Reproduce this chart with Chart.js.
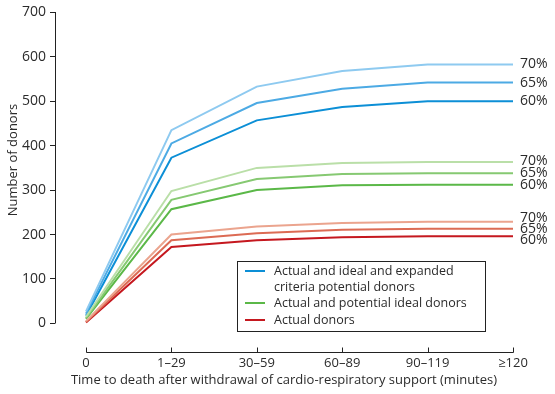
<!DOCTYPE html>
<html>
<head>
<meta charset="utf-8">
<script src="https://cdn.jsdelivr.net/npm/chart.js@4.4.0/dist/chart.umd.min.js"></script>
<style>
  html, body { margin: 0; padding: 0; background: #fff; }
  #wrap { width: 555px; height: 394px; }
</style>
</head>
<body>
<div id="wrap"><canvas id="donorChart" width="555" height="394"></canvas></div>
<script>
// categories on the x axis
const categories = ['0', '1\u201329', '30\u201359', '60\u201389', '90\u2013119', '\u2265120'];
const yTicks = [0, 100, 200, 300, 400, 500, 600, 700];

// Actual and ideal and expanded criteria potential donors
const blue70 = [27, 435, 533, 568, 583, 583];
const blue65 = [22, 405, 496, 528, 542, 542];
const blue60 = [17, 373, 457, 487, 500, 500];
// Actual and potential ideal donors
const green70 = [15, 298, 350, 361, 363, 363];
const green65 = [12, 278, 325, 336, 338, 338];
const green60 = [10, 257, 300, 311, 312, 312];
// Actual donors
const red70 = [5, 200, 218, 226, 229, 229];
const red65 = [3, 187, 203, 211, 213, 213];
const red60 = [2, 172, 187, 194, 196, 196];

const pctLabels = ['70%', '65%', '60%'];
const legendLabels = [
    ['Actual and ideal and expanded', 'criteria potential donors'],
    ['Actual and potential ideal donors'],
    ['Actual donors']
];

const FONT = "'Open Sans', sans-serif";
const TEXT = '#2b2b2b';

function series(values, color, pct, nudge) {
    return {
        data: values.map((v, i) => ({ x: i, y: v })),
        borderColor: color,
        borderWidth: 2,
        pointRadius: 0,
        tension: 0,
        fill: false,
        pct: pct,
        nudge: nudge || 0
    };
}

const datasets = [
    series(red70, '#eba48e', pctLabels[0], -4),
    series(red65, '#dc6b54', pctLabels[1], 0),
    series(red60, '#c5181f', pctLabels[2], 4),
    series(green70, '#badfa8', pctLabels[0], -1),
    series(green65, '#86c972', pctLabels[1], 0),
    series(green60, '#5bb848', pctLabels[2], 0),
    series(blue70, '#8ecaf0', pctLabels[0], 0),
    series(blue65, '#4caae4', pctLabels[1], 0),
    series(blue60, '#0c8fd6', pctLabels[2], 0)
];

const legendColors = ['#0c8fd6', '#5bb848', '#c5181f'];

// axes lines, end labels, y title and legend box
const decorPlugin = {
    id: 'decor',
    afterDraw(chart) {
        const ctx = chart.ctx;
        const x = chart.scales.x, y = chart.scales.y;
        const area = chart.chartArea;
        ctx.save();
        ctx.strokeStyle = '#222';
        ctx.lineWidth = 1;

        // y axis line (700 down to 0)
        const yTop = Math.round(y.getPixelForValue(700));
        const yZero = Math.round(y.getPixelForValue(0));
        ctx.beginPath();
        ctx.moveTo(area.left + 0.5, yTop);
        ctx.lineTo(area.left + 0.5, yZero + 0.5);
        ctx.stroke();

        // x axis line with upward tick marks
        const xb = Math.round(area.bottom) + 0.5;
        ctx.beginPath();
        ctx.moveTo(Math.round(x.getPixelForValue(0)) + 0.5, xb);
        ctx.lineTo(Math.round(x.getPixelForValue(categories.length - 1)) + 0.5, xb);
        categories.forEach((c, i) => {
            const px = Math.round(x.getPixelForValue(i)) + 0.5;
            ctx.moveTo(px, xb);
            ctx.lineTo(px, xb - 5);
        });
        ctx.stroke();

        // percentage labels at the end of each line
        ctx.fillStyle = TEXT;
        ctx.font = '14px ' + FONT;
        ctx.textAlign = 'left';
        ctx.textBaseline = 'middle';
        chart.data.datasets.forEach((ds, i) => {
            const meta = chart.getDatasetMeta(i);
            const last = meta.data[meta.data.length - 1];
            ctx.fillText(ds.pct, last.x + 7, last.y + ds.nudge);
        });

        // y axis title
        ctx.font = '13px ' + FONT;
        ctx.save();
        ctx.translate(13, 160);
        ctx.rotate(-Math.PI / 2);
        ctx.textAlign = 'center';
        ctx.fillText('Number of donors', 0, 0);
        ctx.restore();

        // legend box
        const bx = 237, by = 261, bw = 248, bh = 70;
        ctx.strokeStyle = '#222';
        ctx.strokeRect(bx + 0.5, by + 0.5, bw, bh);
        ctx.font = '12.5px ' + FONT;
        const rows = [[271, 287], [303], [320]];
        legendLabels.forEach((lines, i) => {
            ctx.strokeStyle = legendColors[i];
            ctx.lineWidth = 2;
            ctx.beginPath();
            ctx.moveTo(bx + 8, rows[i][0]);
            ctx.lineTo(bx + 28, rows[i][0]);
            ctx.stroke();
            lines.forEach((t, j) => ctx.fillText(t, bx + 37, rows[i][j]));
        });
        ctx.restore();
    }
};

new Chart(document.getElementById('donorChart'), {
    type: 'line',
    data: { datasets: datasets },
    plugins: [decorPlugin],
    options: {
        responsive: false,
        animation: false,
        layout: { padding: { top: 8, right: 42, bottom: 0, left: 0 } },
        plugins: { legend: { display: false }, tooltip: { enabled: false } },
        scales: {
            x: {
                type: 'linear',
                min: -0.363,
                max: categories.length - 1,
                afterBuildTicks: axis => { axis.ticks = categories.map((c, i) => ({ value: i })); },
                afterFit: axis => { axis.height = 42; },
                grid: { display: false, drawTicks: false },
                border: { display: false },
                ticks: {
                    padding: 3,
                    maxRotation: 0,
                    autoSkip: false,
                    color: TEXT,
                    font: { family: FONT, size: 13 },
                    callback: v => categories[v]
                },
                title: {
                    display: true,
                    text: 'Time to death after withdrawal of cardio-respiratory support (minutes)',
                    color: TEXT,
                    font: { family: FONT, size: 13 },
                    padding: { top: 0, bottom: 6 }
                }
            },
            y: {
                min: -64.4,
                max: 700,
                afterBuildTicks: axis => { axis.ticks = yTicks.map(v => ({ value: v })); },
                afterFit: axis => { axis.width = 55; },
                grid: { drawOnChartArea: false, drawTicks: true, tickLength: 5, color: '#222' },
                border: { display: false },
                ticks: {
                    padding: 4,
                    color: TEXT,
                    font: { family: FONT, size: 14 }
                }
            }
        }
    }
});
</script>
</body>
</html>
